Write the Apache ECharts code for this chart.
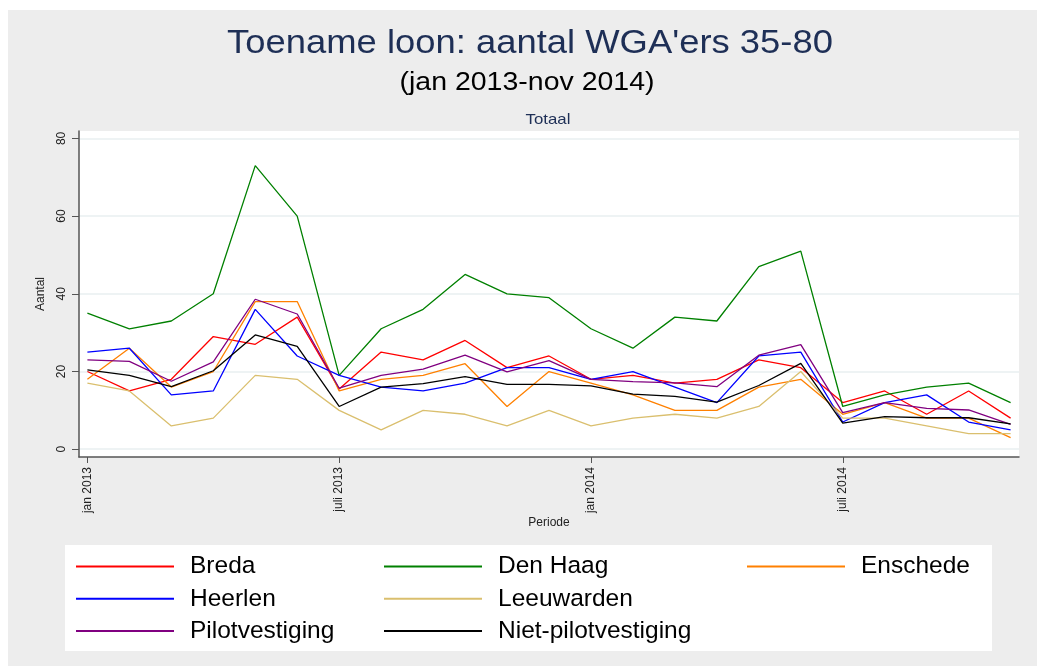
<!DOCTYPE html>
<html>
<head>
<meta charset="utf-8">
<script src="https://cdn.jsdelivr.net/npm/echarts@6/dist/echarts.min.js"></script>
<style>
  html, body { margin: 0; padding: 0; background: #fff; }
  #main { width: 1037px; height: 666px; }
</style>
</head>
<body>
<div id="main"></div>
<script>
// maanden jan 2013 - nov 2014 (index 0..22)
var months = ['jan 2013', 'feb 2013', 'mrt 2013', 'apr 2013', 'mei 2013', 'jun 2013',
  'jul 2013', 'aug 2013', 'sep 2013', 'okt 2013', 'nov 2013', 'dec 2013',
  'jan 2014', 'feb 2014', 'mrt 2014', 'apr 2014', 'mei 2014', 'jun 2014',
  'jul 2014', 'aug 2014', 'sep 2014', 'okt 2014', 'nov 2014'];

var breda      = [20, 15, 18, 29, 27, 34, 15.5, 25, 23, 28, 21, 24, 18, 19, 17, 18, 23, 21, 12, 15, 9, 15, 8];
var denHaag    = [35, 31, 33, 40, 73, 60, 19, 31, 36, 45, 40, 39, 31, 26, 34, 33, 47, 51, 11, 14, 16, 17, 12];
var enschede   = [18, 26, 16, 20, 38, 38, 15, 18, 19, 22, 11, 20, 17, 14, 10, 10, 16, 18, 9, 12, 8, 8, 3];
var heerlen    = [25, 26, 14, 15, 36, 24, 19, 16, 15, 17, 21, 21, 18, 20, 16, 12, 24, 25, 7, 12, 14, 7, 5];
var leeuwarden = [17, 15, 6, 8, 19, 18, 10, 5, 10, 9, 6, 10, 6, 8, 9, 8, 11, 20, 8, 8, 6, 4, 4];
var pilot      = [23, 22.6, 17.5, 22.5, 38.6, 34.8, 15.7, 19, 20.6, 24.2, 19.9, 22.8, 18, 17.4, 17.1, 16.1, 24.2, 26.9, 9.4, 12, 10.5, 10.1, 6.4];
var nietPilot  = [20.4, 19, 16.1, 20.2, 29.4, 26.5, 11, 16, 16.9, 18.7, 16.7, 16.7, 16.3, 14.2, 13.6, 12.1, 16.4, 22.1, 6.7, 8.4, 8.1, 8.1, 6.5];

var xTickPos = [0, 6, 12, 18];
var xTickLabels = ['jan 2013', 'juli 2013', 'jan 2014', 'juli 2014'];
var yTicks = [0, 20, 40, 60, 80];

var seriesDefs = [
  { name: 'Breda', data: breda, color: '#ff0000' },
  { name: 'Den Haag', data: denHaag, color: '#008000' },
  { name: 'Enschede', data: enschede, color: '#ff8000' },
  { name: 'Heerlen', data: heerlen, color: '#0000ff' },
  { name: 'Leeuwarden', data: leeuwarden, color: '#dabf6e' },
  { name: 'Pilotvestiging', data: pilot, color: '#800080' },
  { name: 'Niet-pilotvestiging', data: nietPilot, color: '#000000' }
];

var font = '"Liberation Sans", Arial, sans-serif';
var axisColor = '#555555';

function makeLegend(names, left) {
  return {
    orient: 'vertical',
    left: left,
    top: 554,
    padding: 0,
    itemGap: 7.3,
    itemWidth: 98,
    itemHeight: 2,
    icon: 'rect',
    selectedMode: false,
    data: names,
    textStyle: {
      fontFamily: font,
      fontSize: 24.5,
      lineHeight: 24,
      color: '#000',
      padding: [0, 0, 0, 11]
    }
  };
}

var myChart = echarts.init(document.getElementById('main'), null, { renderer: 'canvas' });
var option = {
  backgroundColor: '#ffffff',
  animation: false,
  textStyle: { fontFamily: font },
  graphic: [
    { type: 'rect', z: -10, shape: { x: 8, y: 10, width: 1029, height: 656 }, style: { fill: '#ededed' } },
    { type: 'rect', z: -9, shape: { x: 65, y: 545, width: 927, height: 106 }, style: { fill: '#ffffff' } },
    {
      type: 'text', x: 530, y: 44, scaleX: 1.12,
      style: { text: "Toename loon: aantal WGA'ers 35-80", x: 0, y: 0, textAlign: 'center', textVerticalAlign: 'middle',
        fontFamily: font, fontSize: 32.5, fill: '#1e2f56' }
    },
    {
      type: 'text', x: 527, y: 83, scaleX: 1.14,
      style: { text: '(jan 2013-nov 2014)', x: 0, y: 0, textAlign: 'center', textVerticalAlign: 'middle',
        fontFamily: font, fontSize: 25, fill: '#000000' }
    },
    {
      type: 'text', x: 548, y: 120, scaleX: 1.12,
      style: { text: 'Totaal', x: 0, y: 0, textAlign: 'center', textVerticalAlign: 'middle',
        fontFamily: font, fontSize: 15, fill: '#1e2f56' }
    }
  ],
  legend: [
    makeLegend(['Breda', 'Heerlen', 'Pilotvestiging'], 76),
    makeLegend(['Den Haag', 'Leeuwarden', 'Niet-pilotvestiging'], 384),
    makeLegend(['Enschede'], 747)
  ],
  grid: {
    left: 79, right: 18, top: 131, bottom: 209,
    show: true, backgroundColor: '#ffffff', borderWidth: 0
  },
  xAxis: {
    type: 'value',
    min: -0.2,
    max: 22.2,
    name: 'Periode',
    nameLocation: 'middle',
    nameGap: 60,
    nameTextStyle: { fontSize: 12, color: '#222' },
    axisLine: { show: true, onZero: false, lineStyle: { color: axisColor, width: 1.5 } },
    axisTick: { show: true, length: 6, customValues: xTickPos, lineStyle: { color: axisColor, width: 1 } },
    axisLabel: {
      customValues: xTickPos,
      rotate: 90,
      margin: 10,
      fontSize: 12,
      color: '#222',
      formatter: function (v) {
        var k = xTickPos.indexOf(Math.round(v));
        return k >= 0 ? xTickLabels[k] : '';
      }
    },
    splitLine: { show: false }
  },
  yAxis: {
    type: 'value',
    min: -2,
    max: 81.9,
    name: 'Aantal',
    nameLocation: 'middle',
    nameGap: 32,
    nameTextStyle: { fontSize: 12, color: '#222' },
    axisLine: { show: true, onZero: false, lineStyle: { color: axisColor, width: 1.5 } },
    axisTick: { show: true, length: 7, customValues: yTicks, lineStyle: { color: axisColor, width: 1 } },
    axisLabel: {
      customValues: yTicks,
      rotate: 90,
      margin: 11,
      fontSize: 12,
      color: '#222'
    },
    splitLine: { show: true, lineStyle: { color: '#e8eff1', width: 1.5 } }
  },
  series: seriesDefs.map(function (s) {
    return {
      name: s.name,
      type: 'line',
      symbol: 'none',
      color: s.color,
      lineStyle: { width: 1.3, color: s.color },
      data: s.data.map(function (v, i) { return [i, v]; })
    };
  })
};
myChart.setOption(option);
</script>
</body>
</html>
